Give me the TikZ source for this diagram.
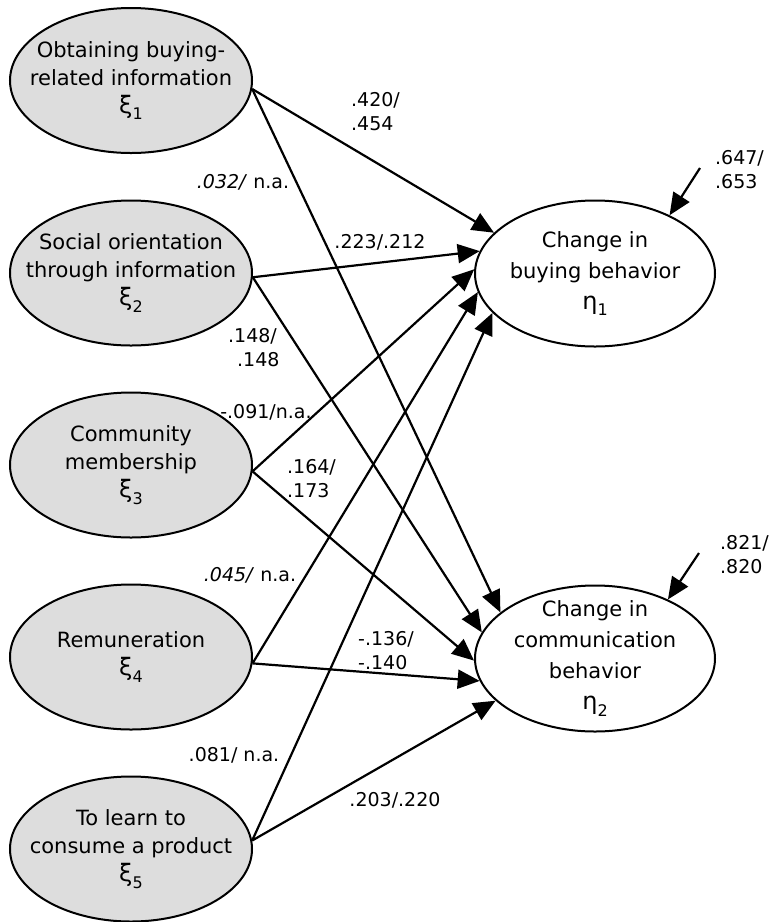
\documentclass[tikz,border=0pt]{standalone}
\usepackage{fontspec}
\setmainfont{DejaVu Sans}
\usetikzlibrary{arrows.meta,shapes.geometric}
\definecolor{latfill}{RGB}{221,221,221}
\newcommand{\latsym}[2]{{\fontsize{24}{28}\selectfont #1}\raisebox{-0.3em}{\fontsize{16}{16}\selectfont #2}}
\begin{document}
\begin{tikzpicture}[x=1pt,y=-1pt,
  exo/.style={ellipse,draw,line width=2pt,fill=latfill,minimum width=242pt,minimum height=145pt,inner xsep=-40pt,inner ysep=-20pt,align=center,font=\fontsize{21}{28}\selectfont},
  endo/.style={ellipse,draw,line width=2pt,fill=white,minimum width=240pt,minimum height=146pt,inner xsep=-40pt,inner ysep=-30pt,align=center,font=\fontsize{21}{31}\selectfont},
  conn/.style={line width=2.2pt,-{Triangle[length=22pt,width=19pt]}},
  lab/.style={font=\fontsize{19}{24}\selectfont,inner sep=0pt}]
\useasboundingbox (0,0) rectangle (769,922);

\node[exo] (x1) at (131,80.5) {Obtaining buying-\\related information\\\latsym{ξ}{1}};
\node[exo] (x2) at (131,273) {Social orientation\\through information\\\latsym{ξ}{2}};
\node[exo] (x3) at (131,465) {Community\\membership\\\latsym{ξ}{3}};
\node[exo] (x4) at (131,657) {Remuneration\\\latsym{ξ}{4}};
\node[exo] (x5) at (131,849) {To learn to\\consume a product\\\latsym{ξ}{5}};

\node[endo] (e1) at (595,273.5) {Change in\\buying behavior\\\latsym{η}{1}};
\node[endo] (e2) at (595,658.5) {Change in\\communication\\behavior\\\latsym{η}{2}};

\draw[conn] (x1.-4.5) -- (e1.158.8);
\draw[conn] (x1.-4.5) -- (e2.154.1);
\draw[conn] (x2.-2.4) -- (e1.169.6);
\draw[conn] (x2.-2.4) -- (e2.167.5);
\draw[conn] (x3.-3.3) -- (e1.178.3);
\draw[conn] (x3.-3.3) -- (e2.181.6);
\draw[conn] (x4.-3.8) -- (e1.189.4);
\draw[conn] (x4.-3.8) -- (e2.191.5);
\draw[conn] (x5.4.3) -- (e1.201.9);
\draw[conn] (x5.4.3) -- (e2.203.8);

\coordinate (r1) at (700,168);
\coordinate (r2) at (699,553);
\draw[conn] (r1) -- (e1.38.7);
\draw[conn] (r2) -- (e2.39.2);

\node[lab,anchor=west,align=left] (l1) at (351,112) {.420/\\.454};
\node[lab] (l2) at (243,182) {\textit{.032/} n.a.};
\node[lab] (l3) at (380,242) {.223/.212};
\node[lab,anchor=west,align=left] (l4) at (228,348) {.148/\\\hspace*{9pt}.148};
\node[lab] (l5) at (266,412) {-.091/n.a.};
\node[lab,anchor=west,align=left] (l6) at (287,479) {.164/\\.173};
\node[lab] (l7) at (250,575) {\textit{.045/} n.a.};
\node[lab,anchor=west,align=left] (l8) at (358,651) {-.136/\\-.140};
\node[lab] (l9) at (234,755) {.081/ n.a.};
\node[lab] (l10) at (395,800) {.203/.220};
\node[lab,anchor=west,align=left] (l11) at (715,170) {.647/\\.653};
\node[lab,anchor=west,align=left] (l12) at (720,555) {.821/\\.820};
\end{tikzpicture}
\end{document}
